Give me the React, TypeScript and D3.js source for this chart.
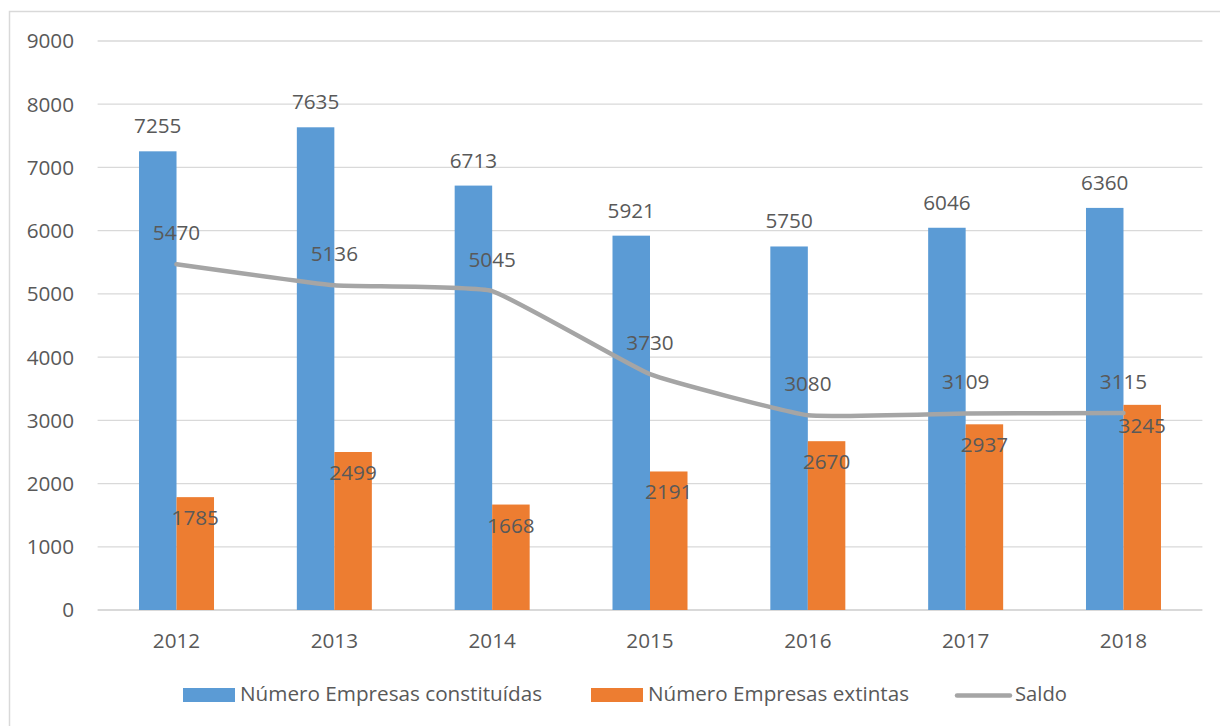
import React from "react";
import * as d3 from "d3";

const years = ["2012", "2013", "2014", "2015", "2016", "2017", "2018"];
const constituidas = [7255, 7635, 6713, 5921, 5750, 6046, 6360];
const extintas = [1785, 2499, 1668, 2191, 2670, 2937, 3245];
const saldo = [5470, 5136, 5045, 3730, 3080, 3109, 3115];
const yTicks = [0, 1000, 2000, 3000, 4000, 5000, 6000, 7000, 8000, 9000];

const BLUE = "#5b9bd5";
const ORANGE = "#ed7d31";
const GREY = "#a5a5a5";
const TEXT = "#595959";
const FONT = "'Open Sans', 'Noto Sans', sans-serif";

export default function App() {
  const W = 1220, H = 726;
  const x = d3.scaleBand<string>().domain(years).range([97.6, 1202.4]);
  const y = d3.scaleLinear().domain([0, 9000]).range([610, 41]);
  const barW = 37.5;
  const cx = (i: number) => (x(years[i]) as number) + x.bandwidth() / 2;

  const line = d3
    .line<number>()
    .x((_, i) => cx(i))
    .y((d) => y(d))
    .curve(d3.curveCardinal.tension(0.65));

  return (
    <svg
      width={W}
      height={H}
      style={{ position: "absolute", left: 0, top: 0, background: "#fff" }}
      fontFamily={FONT}
    >
      <rect x={9.5} y={11.5} width={1240} height={740} fill="#fff" stroke="#d9d9d9" strokeWidth={1.5} />
      {yTicks.map((t) => (
        <g key={t}>
          <line x1={97.6} x2={1202.4} y1={y(t)} y2={y(t)} stroke="#d9d9d9" strokeWidth={t === 0 ? 2 : 1.3} />
          <text x={74} y={y(t)} dy="0.36em" textAnchor="end" fontSize={20.7} fill={TEXT}>
            {t}
          </text>
        </g>
      ))}
      {years.map((yr, i) => (
        <g key={yr}>
          <rect x={cx(i) - barW} y={y(constituidas[i])} width={barW} height={y(0) - y(constituidas[i])} fill={BLUE} />
          <rect x={cx(i)} y={y(extintas[i])} width={barW} height={y(0) - y(extintas[i])} fill={ORANGE} />
          <text x={cx(i)} y={648} textAnchor="middle" fontSize={20.7} fill={TEXT}>
            {yr}
          </text>
        </g>
      ))}
      <path d={line(saldo) || ""} fill="none" stroke={GREY} strokeWidth={4.5} strokeLinecap="round" strokeLinejoin="round" />
      {years.map((yr, i) => (
        <g key={"lbl" + yr} fontSize={20.7} fill={TEXT} textAnchor="middle">
          <text x={cx(i) - barW / 2} y={y(constituidas[i]) - 18}>
            {constituidas[i]}
          </text>
          <text x={cx(i) + barW / 2} y={y(extintas[i]) + 28}>
            {extintas[i]}
          </text>
          <text x={cx(i)} y={y(saldo[i]) - 24}>
            {saldo[i]}
          </text>
        </g>
      ))}
      <g fontSize={20.7} fill={TEXT}>
        <rect x={183} y={688} width={52} height={14} fill={BLUE} />
        <text x={240} y={701} textLength={302} lengthAdjust="spacingAndGlyphs">Número Empresas constituídas</text>
        <rect x={591} y={688} width={52} height={14} fill={ORANGE} />
        <text x={648} y={701} textLength={261} lengthAdjust="spacingAndGlyphs">Número Empresas extintas</text>
        <line x1={957} x2={1010} y1={695.5} y2={695.5} stroke={GREY} strokeWidth={4.5} strokeLinecap="round" />
        <text x={1015} y={701} textLength={52} lengthAdjust="spacingAndGlyphs">Saldo</text>
      </g>
    </svg>
  );
}
